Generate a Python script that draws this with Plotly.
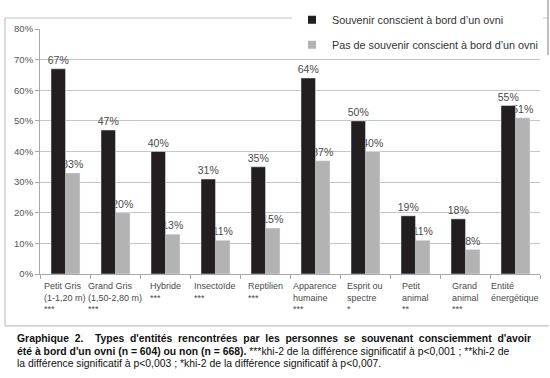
import plotly.graph_objects as go

# ---- data ----
cat_lines = [["Petit Gris", "(1-1,20 m)"], ["Grand Gris", "(1,50-2,80 m)"], ["Hybride"],
             ["Insectoïde"], ["Reptilien"], ["Apparence", "humaine"], ["Esprit ou", "spectre"],
             ["Petit", "animal"], ["Grand", "animal"], ["Entité", "énergétique"]]
signif = ["***", "***", "***", "***", "***", "***", "*", "**", "***", ""]
souvenir = [67, 47, 40, 31, 35, 64, 50, 19, 18, 55]
pas_souvenir = [33, 20, 13, 11, 15, 37, 40, 11, 8, 51]
y_ticks = [0, 10, 20, 30, 40, 50, 60, 70, 80]
y_ticklabels = ["0%", "10%", "20%", "30%", "40%", "50%", "60%", "70%", "80%"]
name_a = "Souvenir conscient à bord d’un ovni"
name_b = "Pas de souvenir conscient à bord d’un ovni"

caption = [
    "<b>Graphique 2.  Types d'entités rencontrées par les personnes se souvenant consciemment d'avoir</b>",
    "<b>été à bord d'un ovni (n = 604) ou non (n = 668).</b> ***khi-2 de la différence significatif à p&lt;0,001 ; **khi-2 de",
    "la différence significatif à p&lt;0,003 ; *khi-2 de la différence significatif à p&lt;0,007.",
]

BLACK = "#231f20"
GRAY = "#b3b3b3"
FONT = "Liberation Sans, Arial"
TXT = "#4a4a4a"

n = len(cat_lines)
xs = list(range(n))

fig = go.Figure()
# gray first so black bars cover its labels (as in reference)
fig.add_trace(go.Bar(x=xs, y=pas_souvenir, name=name_b, marker_color=GRAY, width=0.29, offset=0.01,
                     text=[f"{v}%" for v in pas_souvenir], textposition="outside", constraintext="none",
                     cliponaxis=False, textfont=dict(family=FONT, size=10.5, color=TXT), showlegend=False,
                     hoverinfo="skip"))
fig.add_trace(go.Bar(x=xs, y=souvenir, name=name_a, marker_color=BLACK, width=0.29, offset=-0.28,
                     text=[f"{v}%" for v in souvenir], textposition="outside", constraintext="none",
                     cliponaxis=False, textfont=dict(family=FONT, size=10.5, color=TXT), showlegend=False,
                     hoverinfo="skip"))
# legend entries
fig.add_trace(go.Scatter(x=[None], y=[None], mode="markers", name=name_a, legendgroup="a", legendrank=1,
                         marker=dict(symbol="square", size=8, color=BLACK)))
fig.add_trace(go.Scatter(x=[None], y=[None], mode="markers", name=name_b, legendgroup="b", legendrank=2,
                         marker=dict(symbol="square", size=8, color=GRAY)))

# frame (style)
fcol = "#c4c4c4"
fig.add_shape(type="line", xref="paper", yref="paper", x0=-0.07, x1=-0.07, y0=1.045, y1=-0.212,
              line=dict(color=fcol, width=1.2), layer="below")
fig.add_shape(type="line", xref="paper", yref="paper", x0=-0.07, x1=1.018, y0=1.045, y1=1.045,
              line=dict(color=fcol, width=1.2), layer="below")
fig.add_shape(type="line", xref="paper", yref="paper", x0=-0.07, x1=1.018, y0=-0.212, y1=-0.212,
              line=dict(color=fcol, width=1.2), layer="below")
fig.add_shape(type="line", xref="paper", yref="paper", x0=1.016, x1=1.016, y0=1.118, y1=0.894,
              line=dict(color="#aaaaaa", width=1.5), layer="above")

# category labels
for i, (lines, s) in enumerate(zip(cat_lines, signif)):
    txt = "<br>".join(lines + ([s] if s else []))
    fig.add_annotation(x=i, y=0, xref="x", yref="y", yshift=-5, text=txt, showarrow=False,
                       xanchor="center", yanchor="top", align="left",
                       font=dict(family=FONT, size=9, color=TXT))

# caption (first line widened to mimic the justified paragraph)
cap_y = [-0.2653, -0.3163, -0.3673]
for k, line in enumerate(caption):
    if k == 0:
        line = line.replace(" ", "  ")
    fig.add_annotation(x=-0.05, y=cap_y[k], xref="paper", yref="paper", text=line,
                       showarrow=False, xanchor="left", yanchor="middle", align="left",
                       font=dict(family=FONT, size=10.4, color="#111"))

fig.update_layout(
    width=550, height=378, margin=dict(l=40, r=10, t=29, b=104, autoexpand=False),
    paper_bgcolor="white", plot_bgcolor="white", barmode="overlay",
    legend=dict(x=0.504, y=1.097, xanchor="left", yanchor="top", bgcolor="white",
                font=dict(family=FONT, size=10.8, color="#333"), traceorder="grouped",
                tracegroupgap=6, itemwidth=30),
    xaxis=dict(range=[-0.5, n - 0.5], tickvals=[i - 0.5 for i in range(n + 1)], showticklabels=False,
               ticks="outside", ticklen=4, tickcolor="#a8a8a8", showgrid=False, zeroline=False,
               showline=True, linecolor="#a8a8a8", linewidth=1, automargin=False),
    yaxis=dict(range=[0, 80], tickvals=y_ticks, ticktext=y_ticklabels, showgrid=True, gridcolor="#c6c6c6",
               gridwidth=1, zeroline=False, showline=True, linecolor="#a8a8a8", ticks="outside",
               ticklen=4, tickcolor="#a8a8a8", automargin=False,
               tickfont=dict(family=FONT, size=9.5, color="#555")),
)

fig.write_html("out.html", config={"displayModeBar": False},
               post_script="document.body.style.margin='0px';")
